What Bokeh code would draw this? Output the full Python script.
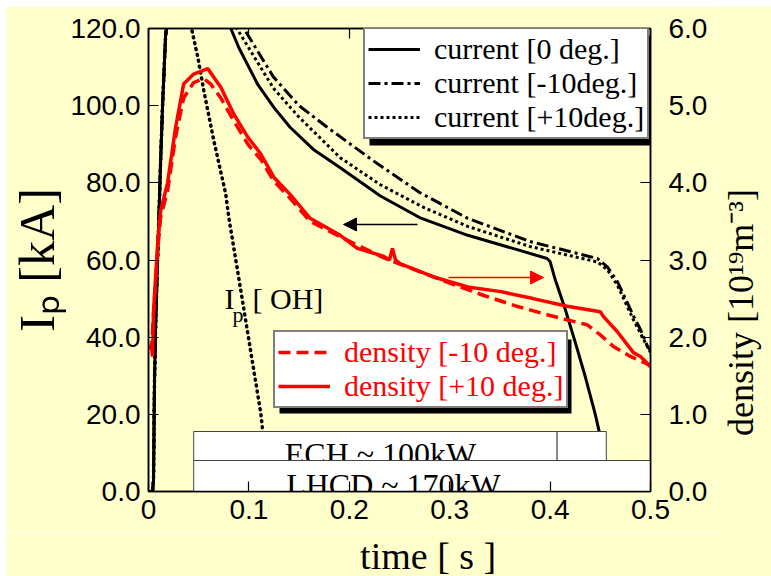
import math
from bokeh.plotting import figure
from bokeh.models import (Range1d, LinearAxis, FixedTicker, NumeralTickFormatter,
                          CustomJSTickFormatter, Legend, LegendItem, Arrow, NormalHead,
                          Label, BoxAnnotation, Spacer)
from bokeh.layouts import row, column
from bokeh.core.properties import value
from bokeh.embed import file_html
from bokeh.resources import INLINE

# ---------------- data ----------------
# plasma current, 0 deg (solid)
t_cur0 = [0, 0.004, 0.005, 0.006, 0.007, 0.009, 0.010, 0.012, 0.014, 0.017, 0.020, 0.030,
          0.060, 0.075, 0.082, 0.090, 0.1086, 0.125, 0.141, 0.165, 0.191, 0.231, 0.27,
          0.318, 0.363, 0.397, 0.400, 0.405, 0.415, 0.425, 0.435, 0.445, 0.452, 0.456, 0.46]
ip_cur0 = [0, 0, 3, 29, 42, 60, 68, 85, 100, 118, 125, 130,
           132, 126, 120, 115, 105.6, 99.5, 94.4, 88.5, 83.9, 76.6, 71,
           66.4, 63, 60.4, 59.6, 55, 47.3, 38.7, 29.8, 20, 12, 5, 0]

# plasma current, -10 deg (dash-dot)
t_curm10 = [0, 0.004, 0.005, 0.006, 0.007, 0.009, 0.010, 0.012, 0.014, 0.017, 0.020, 0.030,
            0.060, 0.085, 0.095, 0.1245, 0.15, 0.178, 0.224, 0.27, 0.318, 0.38, 0.447,
            0.457, 0.467, 0.475, 0.483, 0.49, 0.497, 0.5]
ip_curm10 = [0, 0, 3, 29, 42, 60, 68, 85, 100, 118, 125, 132,
             135, 128, 120, 107.4, 100, 94.4, 85.7, 77.5, 70.8, 64.8, 60.4,
             58.2, 54.4, 50, 45.5, 42, 37.6, 36.5]

# plasma current, +10 deg (dotted)
t_curp10 = [0, 0.004, 0.005, 0.006, 0.007, 0.009, 0.010, 0.012, 0.014, 0.017, 0.020, 0.030,
            0.060, 0.080, 0.088, 0.1245, 0.15, 0.191, 0.231, 0.275, 0.318, 0.38, 0.447,
            0.457, 0.467, 0.483, 0.5]
ip_curp10 = [0, 0, 3, 29, 42, 60, 68, 85, 100, 118, 125, 132,
             134, 126, 120, 104.5, 97, 86.5, 79.5, 73.5, 68.7, 63.5, 59.5,
             57.5, 53.5, 44.5, 36]

# OH-only discharge (dotted)
t_oh = [0, 0.004, 0.005, 0.006, 0.007, 0.009, 0.010, 0.012, 0.014, 0.017, 0.020, 0.026,
        0.034, 0.042, 0.049, 0.055, 0.065, 0.077, 0.080, 0.092, 0.102, 0.112, 0.117, 0.120]
ip_oh = [0, 0, 3, 29, 42, 60, 68, 85, 100, 118, 125, 130,
         127, 121, 112.7, 104, 91, 77, 71, 52, 36, 20, 8, 0]

# density, +10 deg (red solid)  [10^19 m^-3]
t_den_p10 = [0, 0.003, 0.004, 0.005, 0.007, 0.009, 0.012, 0.019, 0.027, 0.035, 0.045, 0.059,
             0.072, 0.085, 0.099, 0.112, 0.125, 0.141, 0.161, 0.191, 0.208, 0.234, 0.240,
             0.243, 0.246, 0.251, 0.284, 0.318, 0.351, 0.383, 0.417, 0.45, 0.453, 0.467,
             0.483, 0.49, 0.5]
den_p10 = [1.88, 1.88, 1.75, 2.33, 2.76, 3.19, 3.63, 4.0, 4.72, 5.28, 5.41, 5.48,
           5.24, 4.89, 4.59, 4.37, 4.07, 3.85, 3.54, 3.32, 3.15, 3.05, 3.0,
           3.15, 3.0, 2.95, 2.78, 2.65, 2.59, 2.5, 2.4, 2.33, 2.27, 2.07,
           1.8, 1.75, 1.62]

# density, -10 deg (red dashed)
t_den_m10 = [0, 0.003, 0.005, 0.007, 0.009, 0.012, 0.019, 0.027, 0.035, 0.045, 0.055, 0.062,
             0.072, 0.085, 0.099, 0.112, 0.125, 0.141, 0.161, 0.191, 0.234, 0.26, 0.30,
             0.334, 0.367, 0.40, 0.437, 0.45, 0.463, 0.48, 0.497, 0.5]
den_m10 = [1.88, 1.85, 2.3, 2.7, 3.1, 3.55, 3.9, 4.6, 5.1, 5.3, 5.35, 5.28,
           5.1, 4.8, 4.5, 4.3, 4.02, 3.8, 3.5, 3.3, 3.03, 2.9, 2.7,
           2.54, 2.4, 2.28, 2.16, 2.03, 1.88, 1.75, 1.65, 1.62]

# heating pulses
ech_start = [0.045, 0.407]
ech_end = [0.407, 0.456]
lhcd_start = [0.045]
lhcd_end = [0.5]
heat_labels = ["ECH ~ 100kW", "LHCD ~ 170kW"]

ip_ticks = [0, 20, 40, 60, 80, 100, 120]
den_ticks = [0, 1, 2, 3, 4, 5, 6]
time_ticks = [0, 0.1, 0.2, 0.3, 0.4, 0.5]
density_title = "density [10¹⁹m⁻³]"
time_title = "time [ s ]"

# ---------------- styling / layout ----------------
BG = "#FFFFCC"
RED = "#FF0000"
SERIF = "Liberation Serif"
SANS = "Liberation Sans"
OFF = 6                       # white page margin at top/left
SPLIT_X = 715                 # page x where the right strip (density title) begins
SPLIT_Y = 532                 # page y where the bottom strip (time title) begins
F_LEFT, F_RIGHT, F_TOP, F_BOTTOM = 148, 650, 28, 491   # frame in page pixels


def tx(px):
    return (px - F_LEFT) / (F_RIGHT - F_LEFT) * 0.5


def ky(py):
    return (F_BOTTOM - py) * 120 / (F_BOTTOM - F_TOP)


p = figure(width=SPLIT_X - OFF, height=SPLIT_Y - OFF, x_range=Range1d(0, 0.5),
           y_range=Range1d(0, 120), output_backend="svg", toolbar_location=None,
           x_axis_location=None, y_axis_location=None,
           min_border_left=F_LEFT - OFF, min_border_right=SPLIT_X - F_RIGHT,
           min_border_top=F_TOP - OFF, min_border_bottom=SPLIT_Y - F_BOTTOM)
p.extra_y_ranges = {"dens": Range1d(0, 6)}
p.background_fill_color = BG
p.border_fill_color = BG
p.outline_line_color = "black"
p.outline_line_width = 1.5
p.xgrid.visible = False
p.ygrid.visible = False


def style_axis(ax, label_size="28px"):
    ax.axis_line_color = "black"
    ax.axis_line_width = 1.5
    ax.major_tick_in = 10
    ax.major_tick_out = 0
    ax.major_tick_line_color = "black"
    ax.major_tick_line_width = 1.2
    ax.minor_tick_line_color = None
    ax.major_label_text_font = SANS
    ax.major_label_text_font_size = label_size
    ax.major_label_text_color = "black"
    ax.axis_label_text_font = SERIF
    ax.axis_label_text_font_style = "normal"
    ax.axis_label_text_color = "black"


yl = LinearAxis(ticker=FixedTicker(ticks=ip_ticks), formatter=NumeralTickFormatter(format="0.0"),
                axis_label="Iₚ [kA]")
style_axis(yl)
yl.major_label_standoff = 8
yl.axis_label_text_font_size = "50px"
yl.axis_label_standoff = 2
p.add_layout(yl, "left")

yr = LinearAxis(y_range_name="dens", ticker=FixedTicker(ticks=den_ticks),
                formatter=NumeralTickFormatter(format="0.0"))
style_axis(yr)
yr.major_label_standoff = 18
p.add_layout(yr, "right")

xb = LinearAxis(ticker=FixedTicker(ticks=time_ticks),
                formatter=CustomJSTickFormatter(code="return tick == 0 ? '0' : tick.toFixed(1);"))
style_axis(xb)
xb.major_label_standoff = 8
p.add_layout(xb, "below")

xt = LinearAxis(ticker=FixedTicker(ticks=time_ticks),
                formatter=CustomJSTickFormatter(code="return '';"))
style_axis(xt)
xt.major_label_standoff = 0
p.add_layout(xt, "above")

# ---------------- curves ----------------
r_c0 = p.line(t_cur0, ip_cur0, line_color="black", line_width=3)
r_cm = p.line(t_curm10, ip_curm10, line_color="black", line_width=3, line_dash="12 4 3 4")
r_cp = p.line(t_curp10, ip_curp10, line_color="black", line_width=3, line_dash="3 3")
r_oh = p.line(t_oh, ip_oh, line_color="black", line_width=3.5, line_dash="1 5", line_cap="round")
r_dm = p.line(t_den_m10, den_m10, y_range_name="dens", line_color=RED, line_width=3.5,
              line_dash="12 6")
r_dp = p.line(t_den_p10, den_p10, y_range_name="dens", line_color=RED, line_width=3.5)

# ---------------- heating boxes ----------------
ech_bot, ech_top = ky(460), ky(431)
p.quad(left=ech_start, right=ech_end, bottom=ech_bot, top=ech_top,
       fill_color="white", line_color="#444444", line_width=1)
p.text(x=[tx(380)], y=[ky(453)], text=[heat_labels[0]], text_font=value(SERIF),
       text_font_size="32px", text_align="center", text_baseline="alphabetic", text_color="black")
p.quad(left=lhcd_start, right=lhcd_end, bottom=0, top=ech_bot,
       fill_color="white", line_color="#444444", line_width=1)
p.text(x=[tx(393)], y=[ky(484)], text=[heat_labels[1]], text_font=value(SERIF),
       text_font_size="32px", text_align="center", text_baseline="alphabetic", text_color="black")

# ---------------- arrows & labels ----------------
p.add_layout(Arrow(end=NormalHead(size=13, fill_color="black", line_color="black"),
                   x_start=tx(417), y_start=ky(224), x_end=tx(343), y_end=ky(224),
                   line_color="black", line_width=1.5))
p.add_layout(Arrow(end=NormalHead(size=13, fill_color=RED, line_color=RED),
                   x_start=tx(448), y_start=ky(277) / 20, x_end=tx(543), y_end=ky(277) / 20,
                   y_range_name="dens", line_color=RED, line_width=1.5))

for txt, xp, yp, fs in [("I", 224, 298, "30px"), ("p", 232, 314, "22px"), ("[ OH]", 252, 298, "30px")]:
    p.add_layout(Label(x=tx(xp), y=ky(yp), text=txt, text_font=SERIF, text_font_size=fs,
                       text_baseline="alphabetic", text_color="black"))

# ---------------- legends ----------------
p.add_layout(BoxAnnotation(left=tx(369), right=tx(652), top=ky(35), bottom=ky(145),
                           fill_color="black", fill_alpha=1, line_color=None))
p.add_layout(BoxAnnotation(left=tx(279), right=tx(571), top=ky(339), bottom=ky(413),
                           fill_color="black", fill_alpha=1, line_color=None))

leg1 = Legend(items=[LegendItem(label="current [0 deg.]", renderers=[r_c0]),
                     LegendItem(label="current [-10deg.]", renderers=[r_cm]),
                     LegendItem(label="current [+10deg.]", renderers=[r_cp])],
              location=(363 - F_LEFT, F_BOTTOM - 139))
leg2 = Legend(items=[LegendItem(label="density [-10 deg.]", renderers=[r_dm]),
                     LegendItem(label="density [+10 deg.]", renderers=[r_dp])],
              location=(273 - F_LEFT, F_BOTTOM - 408))
for lg, col in [(leg1, "black"), (leg2, RED)]:
    lg.label_text_font = SERIF
    lg.label_text_font_size = "30px"
    lg.label_text_color = col
    lg.label_height = 28
    lg.label_standoff = 14
    lg.glyph_width = 52
    lg.glyph_height = 20
    lg.padding = 3
    lg.spacing = 0
    lg.margin = 0
    lg.border_line_color = "black"
    lg.border_line_width = 2
    lg.background_fill_color = "white"
    lg.background_fill_alpha = 1
    p.add_layout(lg, "center")


def strip(x0, x1, y0, y1):
    """A bare figure whose data coordinates are page pixels (y downward)."""
    f = figure(width=x1 - x0, height=y1 - y0, x_range=Range1d(x0, x1), y_range=Range1d(y1, y0),
               output_backend="svg", toolbar_location=None, title=None,
               x_axis_location=None, y_axis_location=None,
               min_border_left=0, min_border_right=0, min_border_top=0, min_border_bottom=0)
    f.background_fill_color = BG
    f.border_fill_color = BG
    f.outline_line_color = None
    f.xgrid.visible = False
    f.ygrid.visible = False
    return f


side = strip(SPLIT_X, 771, OFF, 576)
side.text(x=[740], y=[312], text=[density_title], angle=math.pi / 2, text_font=value(SERIF),
          text_font_size="36px", text_align="center", text_baseline="middle", text_color="black")

bottom = strip(OFF, SPLIT_X, SPLIT_Y, 576)
bottom.text(x=[401], y=[555], text=[time_title], text_font=value(SERIF),
            text_font_size="38px", text_align="center", text_baseline="middle", text_color="black")

layout = row(Spacer(width=OFF, height=576),
             column(Spacer(width=771 - OFF, height=OFF),
                    row(column(p, bottom), side)))
open("out.html", "w").write(file_html(layout, INLINE))
